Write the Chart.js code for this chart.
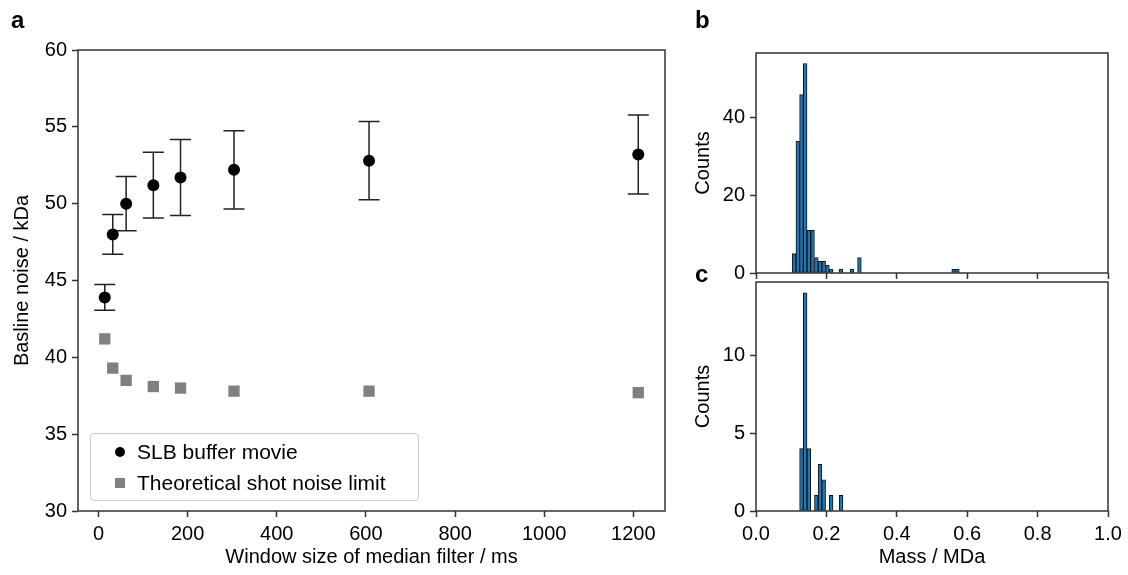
<!DOCTYPE html>
<html>
<head>
<meta charset="utf-8">
<script src="https://cdn.jsdelivr.net/npm/chart.js@4.4.1/dist/chart.umd.min.js"></script>
<style>
    body { margin: 0; background: #fff; width: 1128px; height: 575px; position: relative; overflow: hidden;
           font-family: 'Liberation Sans', Arial, sans-serif; }
    canvas { position: absolute; }
    #chartA { left: 0; top: 0; }
    #chartB { left: 690px; top: 0; }
    #chartC { left: 690px; top: 256px; }
    .panel { position: absolute; font-weight: bold; font-size: 24px; line-height: 24px; color: #000; }
    #legend { position: absolute; left: 90px; top: 433px; width: 327px; height: 66px;
              border: 1px solid #ccc; border-radius: 4px; background: rgba(255,255,255,0.8); }
    #legend .item { position: absolute; left: 46px; font-size: 21px; line-height: 24px; color: #000; white-space: nowrap; }
    #legend .mark { position: absolute; }
</style>
</head>
<body>
<canvas id="chartA" width="690" height="575"></canvas>
<canvas id="chartB" width="438" height="290"></canvas>
<canvas id="chartC" width="438" height="319"></canvas>

<div class="panel" style="left:11px; top:8px;">a</div>
<div class="panel" style="left:695px; top:8px;">b</div>
<div class="panel" style="left:695px; top:262px;">c</div>

<div id="legend">
    <div class="mark" style="left:24px; top:13px; width:10px; height:10px; border-radius:50%; background:#000;"></div>
    <div class="item" style="top:6px;">SLB buffer movie</div>
    <div class="mark" style="left:24px; top:44px; width:10px; height:10px; background:#808080;"></div>
    <div class="item" style="top:37px;">Theoretical shot noise limit</div>
</div>

<script>
// panel a : baseline noise vs window size
const windowMs = [14, 32, 62, 123, 184, 304, 607, 1211];
const slbNoise = [43.9, 48.0, 50.0, 51.2, 51.7, 52.2, 52.8, 53.2];
const slbError = [0.84, 1.29, 1.76, 2.14, 2.47, 2.55, 2.55, 2.57];
const shotNoise = [41.2, 39.3, 38.5, 38.1, 38.0, 37.8, 37.8, 37.7];
const windowTicks = [0, 200, 400, 600, 800, 1000, 1200];
const noiseTicks = [30, 35, 40, 45, 50, 55, 60];

// panels b and c : mass histograms (bin centres in MDa)
const massBinsB = [0.1081, 0.1187, 0.1292, 0.1397, 0.1502, 0.1607, 0.1714, 0.1819, 0.1924, 0.2030, 0.2136,
                   0.2416, 0.2728, 0.2938, 0.5615, 0.5722];
const countsB = [5, 34, 46, 54, 11, 11, 4, 3, 3, 2, 1, 1, 1, 4, 1, 1];
const massBinsC = [0.1292, 0.1397, 0.1502, 0.1714, 0.1819, 0.1924, 0.2136, 0.2416];
const countsC = [4, 14, 4, 1, 3, 2, 1, 1];
const massTicks = [0, 0.2, 0.4, 0.6, 0.8, 1.0];
const countTicksB = [0, 20, 40];
const countTicksC = [0, 5, 10];

Chart.defaults.font.family = "'Liberation Sans', Arial, sans-serif";
Chart.defaults.color = '#000';

const AXIS_COLOR = '#333';

// box round the plot area, like matplotlib spines
const framePlugin = {
    id: 'frame',
    afterDatasetsDraw(chart) {
        const a = chart.chartArea;
        const ctx = chart.ctx;
        ctx.save();
        ctx.strokeStyle = AXIS_COLOR;
        ctx.lineWidth = 1.5;
        ctx.strokeRect(a.left, a.top, a.right - a.left, a.bottom - a.top);
        ctx.restore();
    }
};

// vertical error bars with caps for the SLB series
const errorBarPlugin = {
    id: 'errorBars',
    beforeDatasetsDraw(chart) {
        const xs = chart.scales.x, ys = chart.scales.y;
        const ctx = chart.ctx;
        ctx.save();
        ctx.strokeStyle = '#222';
        ctx.lineWidth = 1.5;
        windowMs.forEach((w, i) => {
            const x = xs.getPixelForValue(w);
            const yTop = ys.getPixelForValue(slbNoise[i] + slbError[i]);
            const yBot = ys.getPixelForValue(slbNoise[i] - slbError[i]);
            ctx.beginPath();
            ctx.moveTo(x, yTop); ctx.lineTo(x, yBot);
            ctx.moveTo(x - 10.5, yTop); ctx.lineTo(x + 10.5, yTop);
            ctx.moveTo(x - 10.5, yBot); ctx.lineTo(x + 10.5, yBot);
            ctx.stroke();
        });
        ctx.restore();
    }
};

function makeAxis(min, max, tickValues, size, extra) {
    const sideKey = extra.horizontal ? 'height' : 'width';
    return Object.assign({
        type: 'linear',
        min: min,
        max: max,
        offset: false,
        afterBuildTicks: s => { s.ticks = tickValues.map(v => ({ value: v })); },
        afterFit: s => { s[sideKey] = size; },
        grid: { display: true, drawOnChartArea: false, drawTicks: true, tickLength: 6,
                tickWidth: 1.5, tickColor: AXIS_COLOR, offset: false },
        border: { display: false },
        ticks: { color: '#000', font: { size: 20 }, padding: 5, autoSkip: false, maxRotation: 0,
                 callback: v => String(v) }
    }, extra.opts);
}

function axisTitle(text, pad) {
    return { display: true, text: text, color: '#000', font: { size: 20, lineHeight: 1.2 }, padding: pad };
}

const baseOptions = {
    responsive: false,
    animation: false,
    plugins: { legend: { display: false }, tooltip: { enabled: false } }
};

// ---- panel a
new Chart(document.getElementById('chartA'), {
    type: 'scatter',
    data: {
        datasets: [
            {
                label: 'SLB buffer movie',
                data: windowMs.map((w, i) => ({ x: w, y: slbNoise[i] })),
                pointStyle: 'circle',
                pointRadius: 6,
                backgroundColor: '#000',
                borderColor: '#000',
                borderWidth: 0
            },
            {
                label: 'Theoretical shot noise limit',
                data: windowMs.map((w, i) => ({ x: w, y: shotNoise[i] })),
                pointStyle: 'rect',
                pointRadius: 8,
                backgroundColor: '#808080',
                borderColor: '#808080',
                borderWidth: 0
            }
        ]
    },
    options: Object.assign({}, baseOptions, {
        layout: { padding: { top: 50, right: 25, left: 0, bottom: 0 } },
        scales: {
            x: makeAxis(-46, 1271, windowTicks, 64, {
                horizontal: true,
                opts: { title: axisTitle('Window size of median filter / ms', { top: 0, bottom: 6 }) }
            }),
            y: makeAxis(30, 60, noiseTicks, 78, {
                opts: { title: axisTitle('Basline noise / kDa', { top: 10, bottom: 0 }) }
            })
        }
    }),
    plugins: [errorBarPlugin, framePlugin]
});

function histDataset(bins, counts) {
    return {
        data: bins.map((m, i) => ({ x: m, y: counts[i] })),
        backgroundColor: '#1f77b4',
        borderColor: '#111',
        borderWidth: 1,
        borderSkipped: false,
        categoryPercentage: 1,
        barPercentage: 1
    };
}

// ---- panel b
new Chart(document.getElementById('chartB'), {
    type: 'bar',
    data: { datasets: [histDataset(massBinsB, countsB)] },
    options: Object.assign({}, baseOptions, {
        layout: { padding: { top: 53, right: 20, left: 0, bottom: 0 } },
        scales: {
            x: makeAxis(0, 1, massTicks, 8, {
                horizontal: true,
                opts: { ticks: { display: false } }
            }),
            y: makeAxis(0, 56.7, countTicksB, 66, {
                opts: { title: axisTitle('Counts', { top: 1, bottom: 0 }) }
            })
        }
    }),
    plugins: [framePlugin]
});

// ---- panel c
new Chart(document.getElementById('chartC'), {
    type: 'bar',
    data: { datasets: [histDataset(massBinsC, countsC)] },
    options: Object.assign({}, baseOptions, {
        layout: { padding: { top: 26, right: 20, left: 0, bottom: 0 } },
        scales: {
            x: makeAxis(0, 1, massTicks, 64, {
                horizontal: true,
                opts: {
                    ticks: { color: '#000', font: { size: 20 }, padding: 5, autoSkip: false, maxRotation: 0,
                             callback: v => Number(v).toFixed(1) },
                    title: axisTitle('Mass / MDa', { top: 0, bottom: 6 })
                }
            }),
            y: makeAxis(0, 14.7, countTicksC, 66, {
                opts: { title: axisTitle('Counts', { top: 1, bottom: 0 }) }
            })
        }
    }),
    plugins: [framePlugin]
});
</script>
</body>
</html>
